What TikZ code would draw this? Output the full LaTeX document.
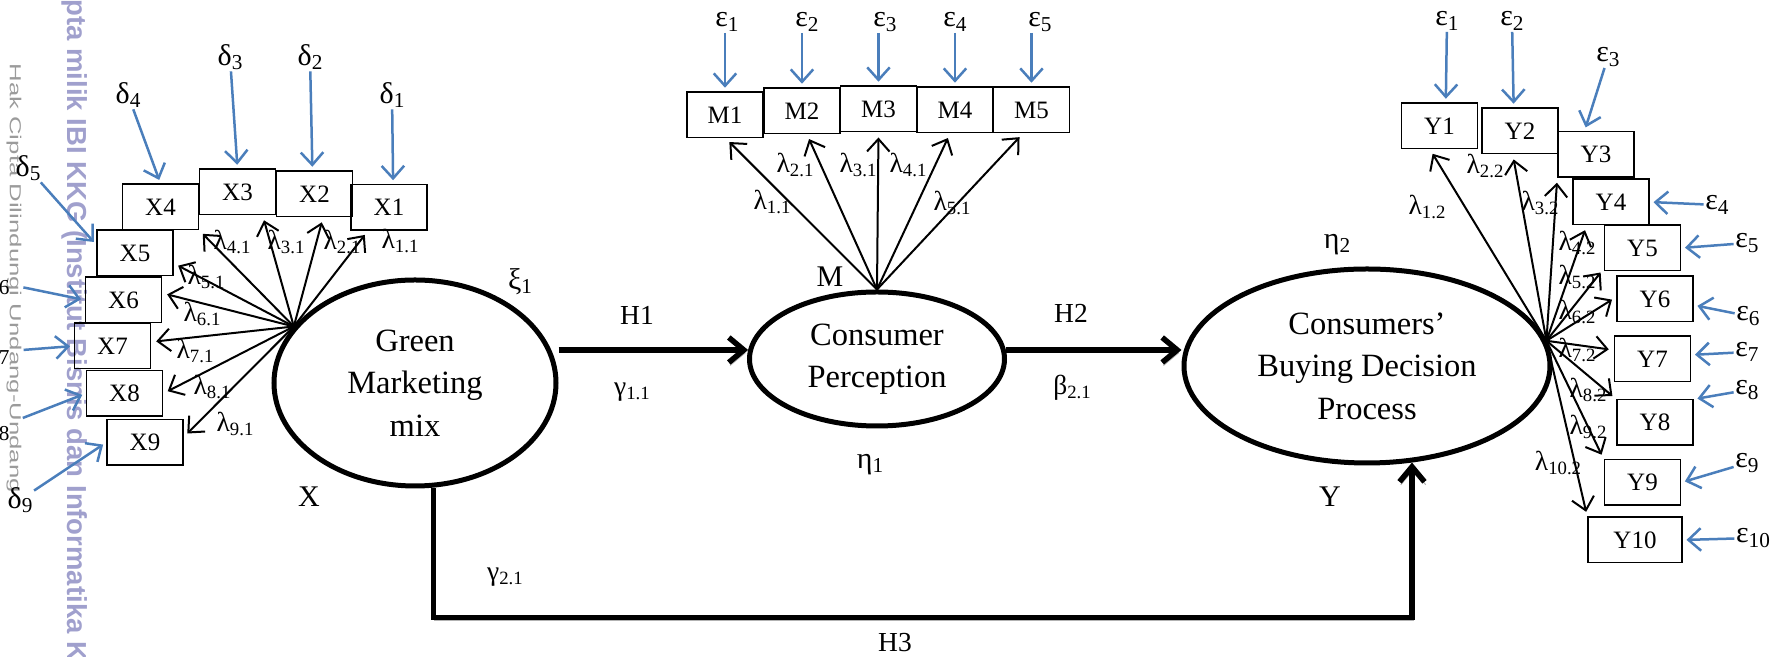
\documentclass[tikz,border=0pt]{standalone}
\usepackage{fontspec}
\setmainfont{Liberation Serif}
\newfontfamily\wmfont{Liberation Sans}
\usetikzlibrary{arrows.meta, shapes.geometric}

\definecolor{errblue}{RGB}{74,126,187}
\definecolor{wmgray}{RGB}{155,155,155}
\definecolor{wmviolet}{RGB}{160,160,205}

\newcommand{\idx}[2][8.5]{\raisebox{-.3ex}{\fontsize{#1}{#1}\selectfont #2}}

\begin{document}
\begin{tikzpicture}[
        x=0.4pt, y=-0.4pt,
        >={Straight Barb[length=5pt, width=9pt]},
        latent/.style={draw, ellipse, line width=2pt, inner sep=0pt, align=center,
            font=\fontsize{13}{17}\selectfont},
        item/.style={draw, line width=0.6pt, minimum width=30.4pt, minimum height=18.2pt,
            inner sep=0pt, font=\fontsize{10}{12}\selectfont},
        coef/.style={inner sep=0.5pt, font=\fontsize{11}{13}\selectfont},
        noise/.style={inner sep=0.5pt, font=\fontsize{12}{14}\selectfont},
        load/.style={->, line width=0.8pt, shorten >=2pt},
        err/.style={->, draw=errblue, line width=1pt, shorten >=1.5pt},
        hyp/.style={->, line width=2.2pt, >={Straight Barb[length=6pt, width=10pt]},
            preaction={draw=black!30, transform canvas={xshift=0.5pt, yshift=-1.2pt}}}
    ]
    \useasboundingbox (0,0) rectangle (1776,657);

    \node[rotate=-90, anchor=base west, text=wmgray, inner sep=0pt,
        font=\wmfont\fontsize{10.3}{12}\selectfont] (wmA) at (10,63)
        {\scalebox{1}[0.62]{Hak Cipta Dilindungi Undang-Undang}};
    \node[rotate=-90, anchor=base west, text=wmviolet, inner sep=0pt,
        font=\wmfont\bfseries\fontsize{11}{13}\selectfont] (wmB) at (67,-82)
        {Hak cipta milik IBI KKG (Institut Bisnis dan Informatika Kwik Kian Gie)};

    \node[latent, minimum width=112.8pt, minimum height=82.4pt] (G) at (415,383) {Green\\Marketing\\mix};
    \node[latent, minimum width=102pt, minimum height=53.6pt] (P) at (877,359) {Consumer\\Perception};
    \node[latent, minimum width=146.4pt, minimum height=77.6pt] (B) at (1367,366) {Consumers’\\Buying Decision\\Process};

    \foreach \n/\x/\y in {1/389/207.5, 2/314.5/194, 3/237.5/192, 4/160.5/207, 5/135/253,
            6/123.5/300, 7/112.5/346, 8/124.5/393.5, 9/145/442.5}
        \node[item] (X\n) at (\x,\y) {X\n};
    \foreach \n/\x/\y in {1/725/115, 2/802/111, 3/878.5/109, 4/955/110, 5/1031.5/110}
        \node[item] (M\n) at (\x,\y) {M\n};
    \foreach \n/\x/\y in {1/1439.5/126, 2/1520/131, 3/1596/154.5, 4/1611/202, 5/1642.5/248,
            6/1655/299, 7/1652.5/359, 8/1655/422.5, 9/1642.5/482.5}
        \node[item] (Y\n) at (\x,\y) {Y\n};
    \node[item, minimum width=37.6pt] (Y10) at (1635,540) {Y10};

    \coordinate (gx) at (G.155);
    \coordinate (by) at (B.8);

    \foreach \n/\a/\lx/\ly in {1/-132/400/241, 2/-70/342/242, 3/-43/286/242, 4/-31/232/242,
            5/-15/206/277, 6/10/202/314, 7/6/195/351, 8/0/212/387, 9/8/235/424}
    {
        \draw[load] (gx) -- (X\n.\a);
        \node[coef] (lx\n) at (\lx,\ly) {λ\idx[7.5]{\n.1}};
    }
    \foreach \n/\a/\lx/\ly in {1/-88/772/202, 2/-78/795/165, 3/-90/858/165, 4/-102/908/165, 5/-110/952/203}
    {
        \draw[load] (P.north) -- (M\n.\a);
        \node[coef] (lm\n) at (\lx,\ly) {λ\idx[7.5]{\n.1}};
    }
    \foreach \n/\a/\lx/\ly in {1/-112/1427/207, 2/-107/1485/166, 3/-149/1540/203, 4/-136/1577/243,
            5/-152/1577/277, 6/177/1577/312, 7/167/1577/350, 8/149/1588/390, 9/149/1588/427, 10/154/1558/463}
    {
        \draw[load] (by) -- (Y\n.\a);
        \node[coef] (ly\n) at (\lx,\ly) {λ\idx[7.5]{\n.2}};
    }

    \foreach \n/\lx/\ly/\a/\s in {1/392/95/80/0, 2/310/57/95/0, 3/230/57/north/0, 4/128/95/north/0,
            5/28/168/168/0, 6/-3/282/west/5, 7/-3/352/west/5, 8/-3/428/west/5, 9/20/500/west/0}
    {
        \node[noise] (dx\n) at (\lx,\ly) {δ\idx{\n}};
        \draw[err, shorten <=\s pt] (dx\n) -- (X\n.\a);
    }
    \foreach \n/\lx in {1/727, 2/807, 3/885, 4/955, 5/1040}
    {
        \node[noise] (em\n) at (\lx,22) {ε\idx{\n}};
        \draw[err] (em\n.south -| M\n.north) -- (M\n.north);
    }
    \foreach \n/\lx/\ly/\a in {1/1447/21/75, 2/1512/21/105, 3/1608/57/116, 4/1717/205/east, 5/1747/243/east,
            6/1748/316/-9, 7/1747/352/6, 8/1747/390/31, 9/1747/463/east, 10/1753/538/east}
    {
        \node[noise] (ey\n) at (\lx,\ly) {ε\idx{\n}};
        \draw[err] (ey\n) -- (Y\n.\a);
    }

    \node[noise] (xi1) at (520,282) {ξ\idx{1}};
    \node[noise] (eta1) at (870,465) {η\idx{1}};
    \node[noise] (eta2) at (1337,245) {η\idx{2}};
    \node[noise] (lX) at (309,497) {X};
    \node[noise] (lY) at (1330,497) {Y};
    \node[noise] (lM) at (830,277) {M};

    \node[coef] (h1) at (637,315) {H1};
    \node[coef] (g11) at (632,392) {γ\idx[7.5]{1.1}};
    \node[coef] (h2) at (1071,313) {H2};
    \node[coef] (b21) at (1072,388) {β\idx[7.5]{2.1}};
    \node[coef] (g21) at (505,577) {γ\idx[7.5]{2.1}};
    \node[coef] (h3) at (895,643) {H3};

    \draw[hyp] (G.east |- P.176) -- (P.176);
    \draw[hyp] (P.4) -- (P.4 -| B.west);
    \draw[hyp] (G.-80) -- ++(0,130) -| (B.-65);
\end{tikzpicture}
\end{document}
